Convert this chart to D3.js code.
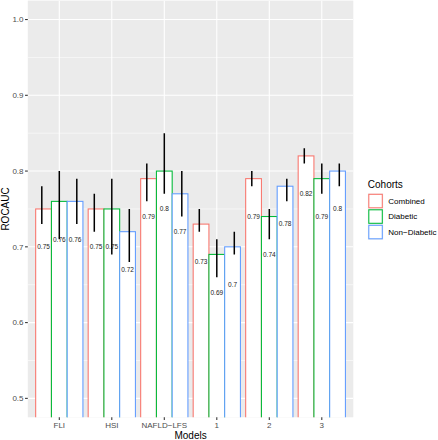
<!DOCTYPE html>
<html>
<head>
<meta charset="utf-8">
<script src="https://cdn.jsdelivr.net/npm/d3@7"></script>
<style>
  html, body { margin: 0; padding: 0; background: #fff; }
  svg { display: block; font-family: "Liberation Sans", Arial, Helvetica, sans-serif; }
</style>
</head>
<body>
<svg id="chart" width="438" height="440"></svg>
<script>
const models = ["FLI", "HSI", "NAFLD-LFS", "1", "2", "3"];
const cohorts = ["Combined", "Diabetic", "Non-Diabetic"];
const cohortColors = ["#F8766D", "#00BA38", "#619CFF"];
const combinedAUC = [0.75, 0.75, 0.79, 0.73, 0.79, 0.82];
const diabeticAUC = [0.76, 0.75, 0.80, 0.69, 0.74, 0.79];
const nonDiabeticAUC = [0.76, 0.72, 0.77, 0.70, 0.78, 0.80];
const combinedLo = [0.73, 0.72, 0.76, 0.72, 0.78, 0.81];
const combinedHi = [0.78, 0.77, 0.81, 0.75, 0.80, 0.83];
const diabeticLo = [0.71, 0.69, 0.77, 0.66, 0.71, 0.77];
const diabeticHi = [0.80, 0.79, 0.85, 0.71, 0.75, 0.81];
const nonDiabeticLo = [0.73, 0.68, 0.74, 0.69, 0.76, 0.78];
const nonDiabeticHi = [0.79, 0.75, 0.80, 0.72, 0.79, 0.81];
const yTicks = [0.5, 0.6, 0.7, 0.8, 0.9, 1.0];
const yMinorTicks = [0.55, 0.65, 0.75, 0.85, 0.95];

const valuesBy = [combinedAUC, diabeticAUC, nonDiabeticAUC];
const loBy = [combinedLo, diabeticLo, nonDiabeticLo];
const hiBy = [combinedHi, diabeticHi, nonDiabeticHi];
const rows = [];
models.forEach((m, i) => cohorts.forEach((c, j) => rows.push({
  model: m, cohort: c, ci: j, v: valuesBy[j][i], lo: loBy[j][i], hi: hiBy[j][i]
})));

const svg = d3.select("#chart");
const P = { left: 27.8, right: 353.3, top: 0.6, bottom: 417.3 };

// ggplot discrete expansion: 0.6 units each side
const x = d3.scalePoint().domain(models).range([P.left, P.right]).padding(0.6);
const unit = x.step();
const xc = m => x(m);
const y = d3.scaleLinear().domain([0.475, 1.025]).range([P.bottom, P.top]);

const colorScale = d3.scaleOrdinal().domain(cohorts).range(cohortColors);

// panel
svg.append("rect").attr("x", P.left).attr("y", P.top)
  .attr("width", P.right - P.left).attr("height", P.bottom - P.top).attr("fill", "#EBEBEB");

svg.append("clipPath").attr("id", "pclip").append("rect")
  .attr("x", P.left).attr("y", P.top).attr("width", P.right - P.left).attr("height", P.bottom - P.top);

const g = svg.append("g").attr("clip-path", "url(#pclip)");

g.selectAll(".minor").data(yMinorTicks).join("line")
  .attr("x1", P.left).attr("x2", P.right)
  .attr("y1", d => y(d)).attr("y2", d => y(d))
  .attr("stroke", "#fff").attr("stroke-width", 0.55);
g.selectAll(".major").data(yTicks).join("line")
  .attr("x1", P.left).attr("x2", P.right)
  .attr("y1", d => y(d)).attr("y2", d => y(d))
  .attr("stroke", "#fff").attr("stroke-width", 1.07);
g.selectAll(".vmajor").data(models).join("line")
  .attr("y1", P.top).attr("y2", P.bottom)
  .attr("x1", d => xc(d)).attr("x2", d => xc(d))
  .attr("stroke", "#fff").attr("stroke-width", 1.07);

const barW = unit * 0.3;
const barX = d => xc(d.model) + (d.ci - 1) * barW - barW / 2;
g.selectAll(".bar").data(rows).join("rect")
  .attr("x", d => barX(d))
  .attr("y", d => y(d.v))
  .attr("width", barW)
  .attr("height", d => y(0) - y(d.v))
  .attr("fill", "#fff")
  .attr("stroke", d => colorScale(d.cohort))
  .attr("stroke-width", 1.07);

g.selectAll(".lbl").data(rows).join("text")
  .attr("x", d => xc(d.model) + (d.ci - 1) * barW)
  .attr("y", d => y(d.v - 0.05))
  .attr("text-anchor", "middle").attr("dy", "0.35em")
  .attr("font-size", 6.5).attr("fill", "#222")
  .text(d => String(+d.v.toFixed(2)));

const ebOff = unit / 3;
g.selectAll(".eb").data(rows).join("line")
  .attr("x1", d => xc(d.model) + (d.ci - 1) * ebOff)
  .attr("x2", d => xc(d.model) + (d.ci - 1) * ebOff)
  .attr("y1", d => y(d.lo)).attr("y2", d => y(d.hi))
  .attr("stroke", "#000").attr("stroke-width", 1.5);

// y axis
const ya = svg.append("g");
ya.selectAll("line").data(yTicks).join("line")
  .attr("x1", P.left - 2.75).attr("x2", P.left)
  .attr("y1", d => y(d)).attr("y2", d => y(d))
  .attr("stroke", "#333").attr("stroke-width", 1.07);
ya.selectAll("text").data(yTicks).join("text")
  .attr("x", P.left - 4.3).attr("y", d => y(d)).attr("dy", "0.35em")
  .attr("text-anchor", "end").attr("font-size", 8).attr("fill", "#4D4D4D")
  .text(d => d3.format(".1f")(d));

// x axis
const xa = svg.append("g");
xa.selectAll("line").data(models).join("line")
  .attr("x1", d => xc(d)).attr("x2", d => xc(d))
  .attr("y1", P.bottom).attr("y2", P.bottom + 2.75)
  .attr("stroke", "#333").attr("stroke-width", 1.07);
xa.selectAll("text").data(models).join("text")
  .attr("x", d => xc(d)).attr("y", 428)
  .attr("text-anchor", "middle").attr("font-size", 8).attr("fill", "#4D4D4D")
  .text(d => d.replace("-", "\u2212"));

svg.append("text").attr("x", (P.left + P.right) / 2).attr("y", 439)
  .attr("text-anchor", "middle").attr("font-size", 10).attr("fill", "#000").text("Models");
svg.append("text").attr("transform", `translate(9.2,${(P.top + P.bottom) / 2}) rotate(-90)`)
  .attr("text-anchor", "middle").attr("font-size", 10).attr("fill", "#000").text("ROCAUC");

// legend
const lg = svg.append("g").attr("transform", "translate(367.8,0)");
lg.append("text").attr("x", 0).attr("y", 187.5).attr("font-size", 10).attr("fill", "#000").text("Cohorts");
cohorts.forEach((c, i) => {
  const ky = 193.3 + i * 15.5;
  lg.append("rect").attr("x", 0).attr("y", ky).attr("width", 15.5).attr("height", 15.5).attr("fill", "#F2F2F2");
  lg.append("rect").attr("x", 1).attr("y", ky + 1).attr("width", 13.5).attr("height", 13.5)
    .attr("fill", "#fff").attr("stroke", colorScale(c)).attr("stroke-width", 1.07);
  lg.append("text").attr("x", 20.5).attr("y", ky + 7.75).attr("dy", "0.35em")
    .attr("font-size", 8).attr("fill", "#000").text(c.replace("-", "\u2212"));
});
</script>
</body>
</html>
